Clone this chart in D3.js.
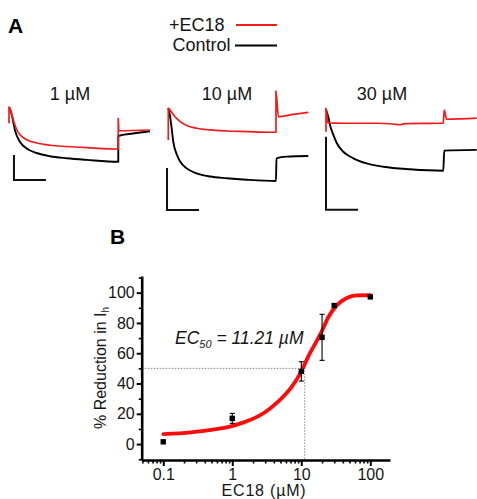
<!DOCTYPE html>
<html>
<head>
<meta charset="utf-8">
<script src="https://cdn.jsdelivr.net/npm/d3@7"></script>
<style>
  body { margin: 0; background: #fff; }
  svg { display: block; font-family: "Liberation Sans", Arial, sans-serif; }
</style>
</head>
<body>
<svg width="477" height="499"></svg>
<script>
// ---- Panel A: Ih traces, time in ms, current in pA ----
const concLabels = ["1 µM", "10 µM", "30 µM"]

const ec18_1uM = [[0, -130], [0, 0], [6, -12], [27, -104], [48, -180], [69, -222], [111, -262], [173, -288],
    [256, -306], [361, -316], [486, -325], [683, -336], [683, -90], [686, -190], [881, -184]]
const control_1uM = [[2, -2], [17, -60], [38, -190], [69, -280], [111, -332], [173, -368], [256, -394],
    [361, -410], [486, -423], [683, -438], [683, -232], [775, -212], [881, -194]]

const ec18_10uM = [[0, -151], [0, 0], [11, -8], [42, -40], [73, -62], [115, -82], [178, -95], [261, -103],
    [365, -108], [490, -111], [573, -113], [673, -114], [673, 82], [688, -40], [781, -29], [875, -19]]
const control_10uM = [[0, 0], [6, -16], [21, -95], [31, -159], [53, -220], [73, -252], [115, -286],
    [178, -310], [261, -325], [365, -333], [490, -340], [673, -346], [676, -238], [740, -230], [875, -227]]

const ec18_30uM = [[0, -64], [0, 0], [12, -40], [108, -41], [317, -41], [419, -43], [463, -45], [494, -42],
    [733, -41], [739, -5], [754, -30], [942, -27]]
const control_30uM = [[0, -3], [4, -9], [14, -23], [25, -46], [46, -73], [67, -95], [108, -119], [171, -137],
    [254, -151], [358, -160], [525, -167], [733, -171], [739, -116], [942, -114]]

const scaleBarTime = 200      // ms
const scaleBarCurrent = 200   // pA
const scaleBarCorner = [[31, -584], [-8, -484], [0, -278]]

// ---- Panel B: dose response ----
const doseConc = [0.1, 1, 10, 20, 30, 100]
const doseMean = [1.5, 17, 48, 70.5, 91.5, 97.2]
const doseErr = [0, 3.3, 6.4, 15.2, 0, 0]

const fitConc = [0.1, 0.25, 0.5, 0.92, 1.43, 2.13, 2.98, 4.6, 7.3, 9.9, 12.6, 16.6, 19.6, 24.5, 32.6, 45, 63, 100]
const fitPct = [6.6, 7.8, 9.4, 11.6, 14.2, 17.3, 21, 28, 38, 47.5, 57.8, 67.8, 74, 83.6, 91.6, 96.3, 98.2, 98.3]

const ec50 = 11.21
const halfEffect = 50
const xTicks = [0.1, 1, 10, 100]
const yTicks = [0, 20, 40, 60, 80, 100]

const red = "#f21a1a"
const ink = "#151515"

const svg = d3.select("svg")

// ---------------- Panel A ----------------
svg.append("text")
    .attr("x", 8).attr("y", 33)
    .attr("font-size", 21).attr("font-weight", "bold")
    .attr("fill", "#000")
    .text("A")

// legend
const legend = svg.append("g")
legend.append("text").attr("x", 169).attr("y", 31).attr("font-size", 18).attr("fill", ink).text("+EC18")
legend.append("line").attr("x1", 236).attr("x2", 277).attr("y1", 25).attr("y2", 25)
    .attr("stroke", red).attr("stroke-width", 1.8)
legend.append("text").attr("x", 172.5).attr("y", 51).attr("font-size", 18).attr("fill", ink).text("Control")
legend.append("line").attr("x1", 235).attr("x2", 277).attr("y1", 45.5).attr("y2", 45.5)
    .attr("stroke", "#000").attr("stroke-width", 2)

const panels = [
    {x0: 9, yref: 107, barPx: 25, labelX: 70, ec18: ec18_1uM, control: control_1uM},
    {x0: 168.3, yref: 108.3, barPx: 42, labelX: 227, ec18: ec18_10uM, control: control_10uM},
    {x0: 326, yref: 108.3, barPx: 73, labelX: 382, ec18: ec18_30uM, control: control_30uM},
]

panels.forEach(function(p, i) {
    const tx = d3.scaleLinear().domain([0, 1000]).range([p.x0, p.x0 + 160])
    const ty = d3.scaleLinear().domain([0, -scaleBarCurrent]).range([p.yref, p.yref + p.barPx])
    const trace = d3.line().x(d => tx(d[0])).y(d => ty(d[1])).curve(d3.curveMonotoneX)
    const straight = d3.line().x(d => tx(d[0])).y(d => ty(d[1]))

    const g = svg.append("g")

    g.append("text")
        .attr("x", p.labelX).attr("y", 100)
        .attr("text-anchor", "middle")
        .attr("font-size", 18).attr("fill", ink)
        .text(concLabels[i])

    g.append("path")
        .attr("d", trace(p.control))
        .attr("fill", "none").attr("stroke", "#000")
        .attr("stroke-width", 1.9).attr("stroke-linejoin", "round")

    g.append("path")
        .attr("d", trace(p.ec18))
        .attr("fill", "none").attr("stroke", red)
        .attr("stroke-width", 1.7).attr("stroke-linejoin", "round")

    // scale bar
    const c = scaleBarCorner[i]
    const bar = [[c[0], c[1] + scaleBarCurrent], c, [c[0] + scaleBarTime, c[1]]]
    g.append("path")
        .attr("d", straight(bar))
        .attr("fill", "none").attr("stroke", "#111")
        .attr("stroke-width", 2)
})

// ---------------- Panel B ----------------
svg.append("text")
    .attr("x", 110).attr("y", 244)
    .attr("font-size", 21).attr("font-weight", "bold")
    .attr("fill", "#000")
    .text("B")

const x = d3.scaleLog().domain([0.0487, 193]).range([141.7, 390])
const y = d3.scaleLinear().domain([-10.5, 111]).range([460, 276])

const gB = svg.append("g")

// dotted EC50 guides
gB.append("path")
    .attr("d", `M${x.range()[0]},${y(halfEffect)}H${x(ec50)}V${y.range()[0]}`)
    .attr("fill", "none").attr("stroke", "#8a8a8a")
    .attr("stroke-width", 1).attr("stroke-dasharray", "1.5,1.5")

// minor ticks
const xMinor = x.ticks().filter(d => !xTicks.includes(+d.toPrecision(3)))
gB.append("g")
    .attr("transform", `translate(0,${y.range()[0]})`)
    .call(d3.axisBottom(x).tickValues(xMinor).tickSize(3.5).tickSizeOuter(0).tickFormat(""))
    .call(g => g.select(".domain").remove())
    .call(g => g.selectAll("line").attr("stroke", "#000").attr("stroke-width", 1.6))

const yMinor = d3.range(-10, 111, 10).filter(d => !yTicks.includes(d))
gB.append("g")
    .attr("transform", `translate(${x.range()[0]},0)`)
    .call(d3.axisLeft(y).tickValues(yMinor).tickSize(3).tickSizeOuter(0).tickFormat(""))
    .call(g => g.select(".domain").remove())
    .call(g => g.selectAll("line").attr("stroke", "#000").attr("stroke-width", 1.6))

// major axes
const xAxis = gB.append("g")
    .attr("transform", `translate(0,${y.range()[0]})`)
    .call(d3.axisBottom(x).tickValues(xTicks).tickSize(6).tickPadding(2.5).tickSizeOuter(0)
        .tickFormat(d => String(d)))
const yAxis = gB.append("g")
    .attr("transform", `translate(${x.range()[0]},0)`)
    .call(d3.axisLeft(y).tickValues(yTicks).tickSize(5).tickPadding(2).tickSizeOuter(0))

;[xAxis, yAxis].forEach(function(ax) {
    ax.select(".domain").attr("stroke", "#000").attr("stroke-width", 2.6)
    ax.selectAll(".tick line").attr("stroke", "#000").attr("stroke-width", 2)
    ax.selectAll(".tick text")
        .attr("font-size", 16).attr("fill", ink)
        .attr("font-family", "Liberation Sans, Arial, sans-serif")
})

// fit curve
const fitLine = d3.line()
    .x((d, i) => x(fitConc[i]))
    .y(d => y(d))
    .curve(d3.curveMonotoneX)

gB.append("path")
    .attr("d", fitLine(fitPct))
    .attr("fill", "none").attr("stroke", "#ff0a0a")
    .attr("stroke-width", 3.8).attr("stroke-linecap", "round")

// error bars
const withErr = doseConc.map((c, i) => ({c: c, m: doseMean[i], e: doseErr[i]})).filter(d => d.e > 0)
const eb = gB.append("g").attr("stroke", "#000").attr("stroke-width", 1.1)
withErr.forEach(function(d) {
    const cx = x(d.c)
    eb.append("line").attr("x1", cx).attr("x2", cx).attr("y1", y(d.m - d.e)).attr("y2", y(d.m + d.e))
    eb.append("line").attr("x1", cx - 2.5).attr("x2", cx + 2.5).attr("y1", y(d.m - d.e)).attr("y2", y(d.m - d.e))
    eb.append("line").attr("x1", cx - 2.5).attr("x2", cx + 2.5).attr("y1", y(d.m + d.e)).attr("y2", y(d.m + d.e))
})

// points
gB.selectAll("rect.pt")
    .data(doseConc)
    .enter()
    .append("rect")
    .attr("class", "pt")
    .attr("x", d => x(d) - 2.7)
    .attr("y", (d, i) => y(doseMean[i]) - 2.7)
    .attr("width", 5.4).attr("height", 5.4)
    .attr("fill", "#000")

// EC50 annotation
const ecText = gB.append("text")
    .attr("x", 175).attr("y", 344)
    .attr("font-size", 17.5).attr("font-style", "italic")
    .attr("fill", ink)
ecText.append("tspan").text("EC")
ecText.append("tspan").attr("font-size", 11).attr("dy", 4).text("50")
ecText.append("tspan").attr("dy", -4).text(" = " + ec50 + " µM")

// axis titles
gB.append("text")
    .attr("x", 264).attr("y", 495.5)
    .attr("text-anchor", "middle")
    .attr("font-size", 16).attr("letter-spacing", 0.8).attr("fill", ink)
    .text("EC18 (µM)")

const yTitle = gB.append("text")
    .attr("transform", `translate(106,${(y.range()[0] + y.range()[1]) / 2}) rotate(-90)`)
    .attr("text-anchor", "middle")
    .attr("font-size", 16).attr("fill", ink)
yTitle.append("tspan").text("% Reduction in I")
yTitle.append("tspan").attr("font-size", 10).attr("dy", 3).text("h")
</script>
</body>
</html>
